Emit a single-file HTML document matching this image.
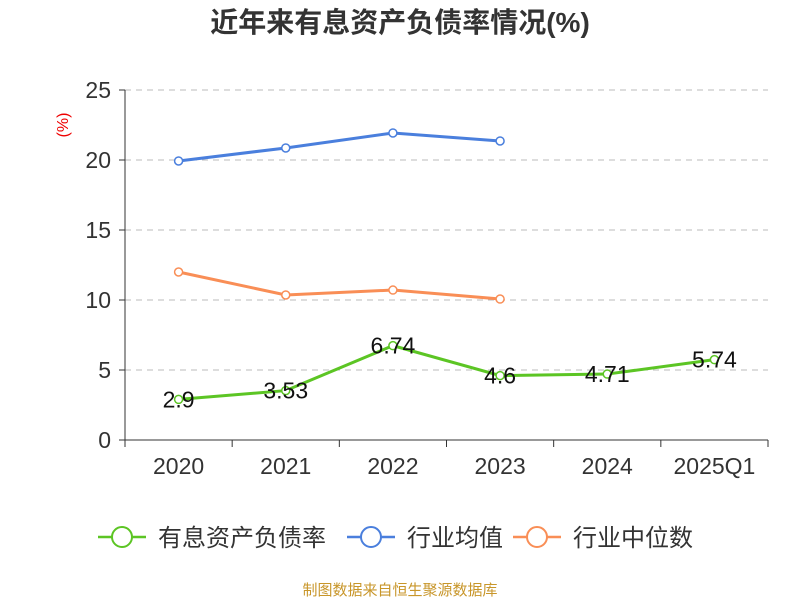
<!DOCTYPE html>
<html><head><meta charset="utf-8"><style>
body{margin:0;background:#fff;width:800px;height:600px;overflow:hidden;font-family:"Liberation Sans","Noto Sans CJK SC",sans-serif}
</style></head><body>
<svg id="c" width="800" height="600" xmlns="http://www.w3.org/2000/svg">
<text x="400" y="32" text-anchor="middle" font-size="28" font-weight="bold" fill="#333">近年来有息资产负债率情况(%)</text>
<text transform="translate(68,125) rotate(-90)" text-anchor="middle" font-size="16" fill="#e00">(%)</text>
<g id="grid"></g><g id="axes"></g><g id="series"></g>
<g id="legend"></g>
<text x="400" y="595" text-anchor="middle" font-size="15" fill="#c8962a">制图数据来自恒生聚源数据库</text>
</svg>
<script>
const categories=["2020","2021","2022","2023","2024","2025Q1"];
const debtRatio=[2.9,3.53,6.74,4.6,4.71,5.74];
const industryAvg=[19.93,20.86,21.93,21.36];
const industryMedian=[12.0,10.36,10.71,10.07];
const yTicks=[0,5,10,15,20,25];
const NS="http://www.w3.org/2000/svg";
const x0=125,x1=768,yB=440,yT=90,yMax=25;
const bw=(x1-x0)/categories.length;
const X=i=>x0+bw*(i+0.5);
const Y=v=>yB-(v/yMax)*(yB-yT);
function mk(tag,attrs,parent,text){const e=document.createElementNS(NS,tag);for(const k in attrs)e.setAttribute(k,attrs[k]);if(text!==undefined)e.textContent=text;document.getElementById(parent).appendChild(e);return e;}
yTicks.forEach(t=>{
  if(t>0){const l=mk('line',{x1:x0,x2:x1,y1:Y(t),y2:Y(t),stroke:'#bbb','stroke-dasharray':'6,5'},'grid');
  
  }
  const tk=mk('line',{x1:x0-6,x2:x0,y1:Y(t),y2:Y(t),stroke:'#333'},'axes');
  
  
  const tx=mk('text',{x:x0-14,y:Y(t)+8,'text-anchor':'end','font-size':23,fill:'#333'},'axes',t);
  
  
});
const ya=mk('line',{x1:x0,x2:x0,y1:yT,y2:yB,stroke:'#333'},'axes');


const xa=mk('line',{x1:x0,x2:x1,y1:yB,y2:yB,stroke:'#333'},'axes');


for(let i=0;i<=categories.length;i++){const t=mk('line',{x1:x0+bw*i,x2:x0+bw*i,y1:yB,y2:yB+7,stroke:'#333'},'axes');

}
categories.forEach((c,i)=>{const t=mk('text',{x:X(i),y:474,'text-anchor':'middle','font-size':23,fill:'#333'},'axes',c);

});
function series(vals,color,name,labels){
  const p=mk('polyline',{points:vals.map((v,i)=>X(i)+','+Y(v)).join(' '),fill:'none',stroke:color,'stroke-width':3},'series');
  
  
  vals.forEach((v,i)=>{const c=mk('circle',{cx:X(i),cy:Y(v),r:4,fill:'#fff',stroke:color,'stroke-width':1.5},'series');
  
  
  if(labels){const t=mk('text',{x:X(i),y:Y(v)+8,'text-anchor':'middle','font-size':23,fill:'#111'},'series',v);
  
  }});
}
series(industryAvg,'#4a7fdd','industry-avg',false);
series(industryMedian,'#f98e56','industry-median',false);
series(debtRatio,'#5cc524','debt-ratio',true);
const leg=[["有息资产负债率",'#5cc524',98],["行业均值",'#4a7fdd',347],["行业中位数",'#f98e56',513]];
leg.forEach(([n,c,x])=>{
  const g=mk('g',{},'legend');
  
  
  const l=document.createElementNS(NS,'line');l.setAttribute('x1',x);l.setAttribute('x2',x+48);l.setAttribute('y1',537);l.setAttribute('y2',537);l.setAttribute('stroke',c);l.setAttribute('stroke-width',2.5);g.appendChild(l);
  const ci=document.createElementNS(NS,'circle');ci.setAttribute('cx',x+24);ci.setAttribute('cy',537);ci.setAttribute('r',10);ci.setAttribute('fill','#fff');ci.setAttribute('stroke',c);ci.setAttribute('stroke-width',2);g.appendChild(ci);
  const t=document.createElementNS(NS,'text');t.setAttribute('x',x+60);t.setAttribute('y',546);t.setAttribute('font-size',24);t.setAttribute('fill','#333');t.textContent=n;g.appendChild(t);
});
</script>
</body></html>
